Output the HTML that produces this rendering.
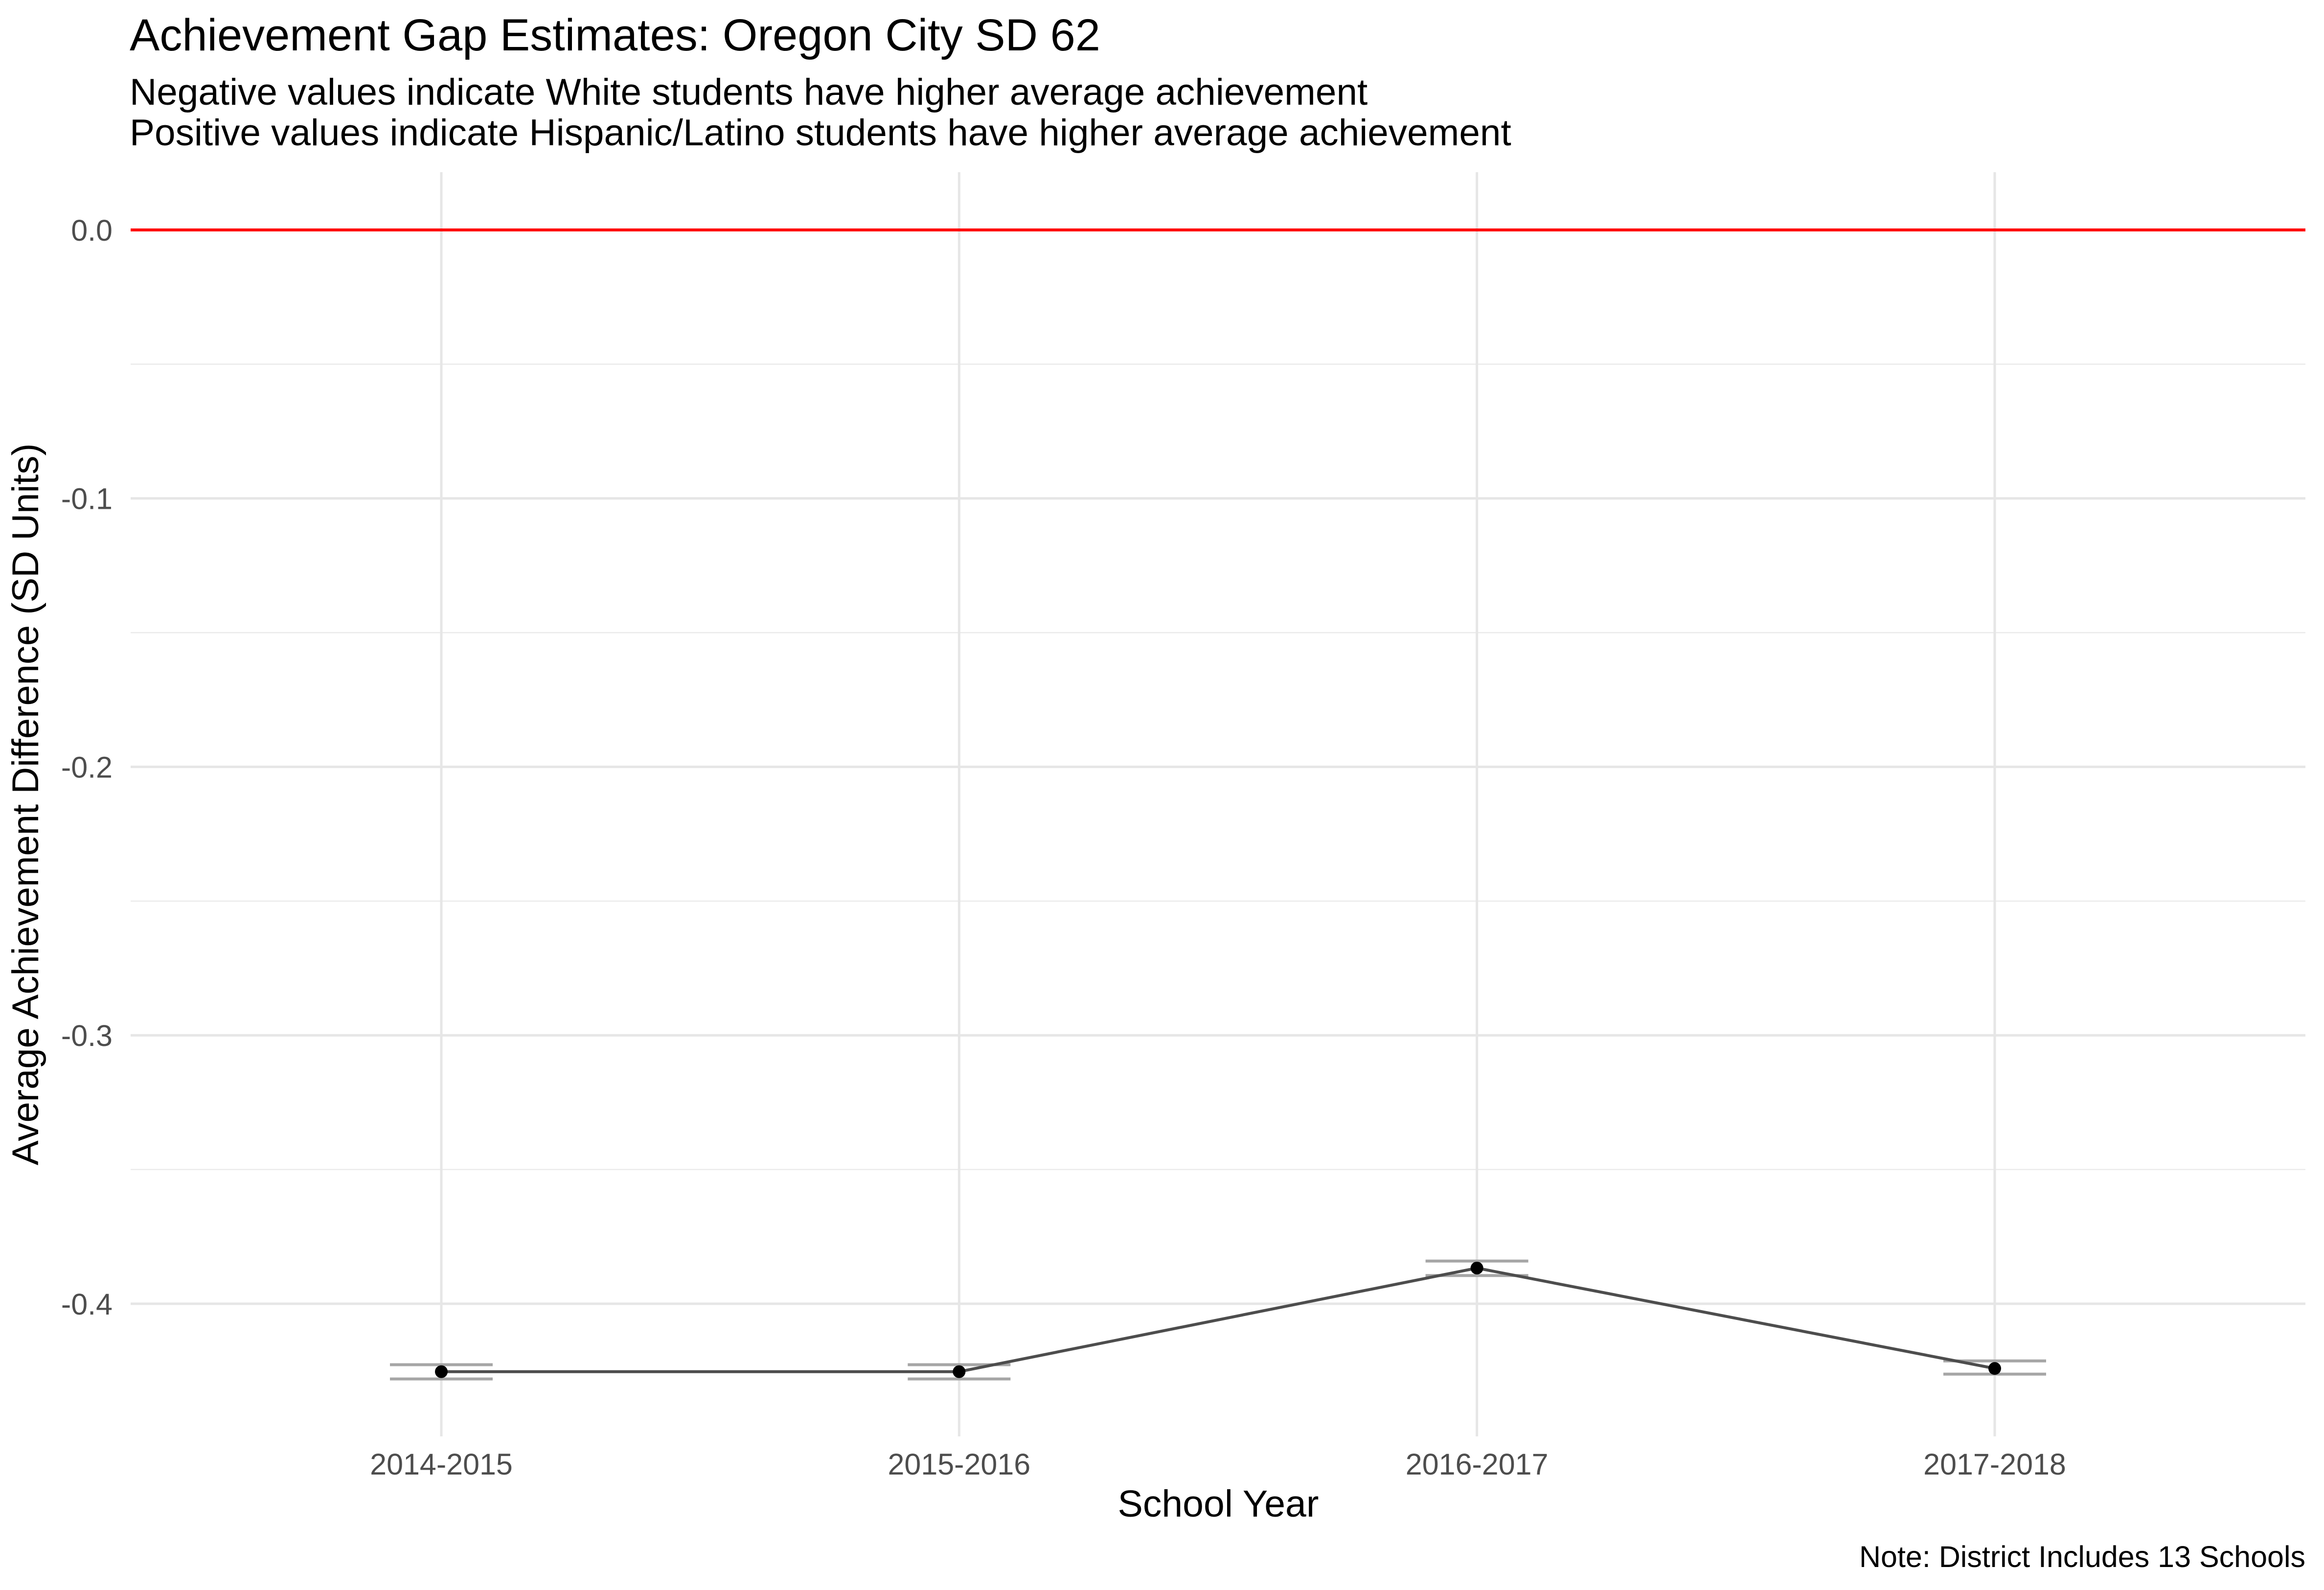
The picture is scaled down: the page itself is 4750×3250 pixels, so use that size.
<!DOCTYPE html>
<html><head><meta charset="utf-8"><style>
html,body{margin:0;padding:0;background:#fff;}
svg{display:block;font-family:"Liberation Sans",Arial,sans-serif;}
</style></head><body>
<svg id="chart" width="4750" height="3250" viewBox="0 0 4750 3250" xmlns="http://www.w3.org/2000/svg">
<text x="265" y="103" font-size="92" fill="#000">Achievement Gap Estimates: Oregon City SD 62</text>
<text x="265" y="214" font-size="76.5" fill="#000">Negative values indicate White students have higher average achievement</text>
<text x="265" y="297" font-size="76.5" fill="#000">Positive values indicate Hispanic/Latino students have higher average achievement</text>
<g id="grid"></g>
<g id="marks"></g>
<g id="axes"></g>
<text x="2490" y="3100" font-size="77" text-anchor="middle" fill="#000">School Year</text>
<text transform="translate(78,1644) rotate(-90)" font-size="76" text-anchor="middle" fill="#000">Average Achievement Difference (SD Units)</text>
<text x="4712" y="3203" font-size="61" text-anchor="end" fill="#000">Note: District Includes 13 Schools</text>
</svg>
<script>
const categories = ["2014-2015","2015-2016","2016-2017","2017-2018"];
const estimates = [-0.4253,-0.4253,-0.3867,-0.4241];
const lowerCI = [-0.4280,-0.4280,-0.3895,-0.4262];
const upperCI = [-0.4227,-0.4227,-0.3841,-0.4213];
const yTicks = [0.0,-0.1,-0.2,-0.3,-0.4];
const yTickLabels = ["0.0","-0.1","-0.2","-0.3","-0.4"];
const yMinor = [-0.05,-0.15,-0.25,-0.35];

const NS="http://www.w3.org/2000/svg";
const panel={l:267,r:4712,t:352,b:2936};
const yMax=0.0215, yMin=-0.4494;
function xScale(i){return panel.l+(i+0.6)*(panel.r-panel.l)/(categories.length-1+1.2);}
function yScale(v){return panel.t+(yMax-v)/(yMax-yMin)*(panel.b-panel.t);}
function mk(tag,attrs,parent){const e=document.createElementNS(NS,tag);for(const k in attrs)e.setAttribute(k,attrs[k]);parent.appendChild(e);return e;}
const grid=document.getElementById('grid'),marks=document.getElementById('marks'),axes=document.getElementById('axes');
yMinor.forEach(v=>{const y=yScale(v);
 const l=mk('line',{x1:panel.l,x2:panel.r,y1:y,y2:y,stroke:'#ebebeb','stroke-width':2.5},grid);
 
 });
yTicks.forEach((v,i)=>{const y=yScale(v);
 const l=mk('line',{x1:panel.l,x2:panel.r,y1:y,y2:y,stroke:'#e6e6e6','stroke-width':5},grid);
 
 
 const t=mk('text',{x:230,y:y+22,'font-size':61,'text-anchor':'end',fill:'#4d4d4d'},axes);
 t.textContent=yTickLabels[i];
 
 });
categories.forEach((c,i)=>{const x=xScale(i);
 const l=mk('line',{x1:x,x2:x,y1:panel.t,y2:panel.b,stroke:'#e6e6e6','stroke-width':5},grid);
 
 
 const t=mk('text',{x:x,y:3014,'font-size':61,'text-anchor':'middle',fill:'#4d4d4d'},axes);
 t.textContent=c;
 
 });
const zero=mk('line',{x1:panel.l,x2:panel.r,y1:yScale(0),y2:yScale(0),stroke:'#ff0000','stroke-width':6},marks);


categories.forEach((c,i)=>{const x=xScale(i);
 [lowerCI[i],upperCI[i]].forEach(v=>{
  const b=mk('line',{x1:x-105,x2:x+105,y1:yScale(v),y2:yScale(v),stroke:'#a6a6a6','stroke-width':6},marks);
  
  });});
const pts=estimates.map((v,i)=>xScale(i)+','+yScale(v)).join(' ');
const pl=mk('polyline',{points:pts,fill:'none',stroke:'#4d4d4d','stroke-width':6},marks);


estimates.forEach((v,i)=>{
 const p=mk('circle',{cx:xScale(i),cy:yScale(v),r:13,fill:'#000'},marks);
 
 });
</script>
</body></html>
